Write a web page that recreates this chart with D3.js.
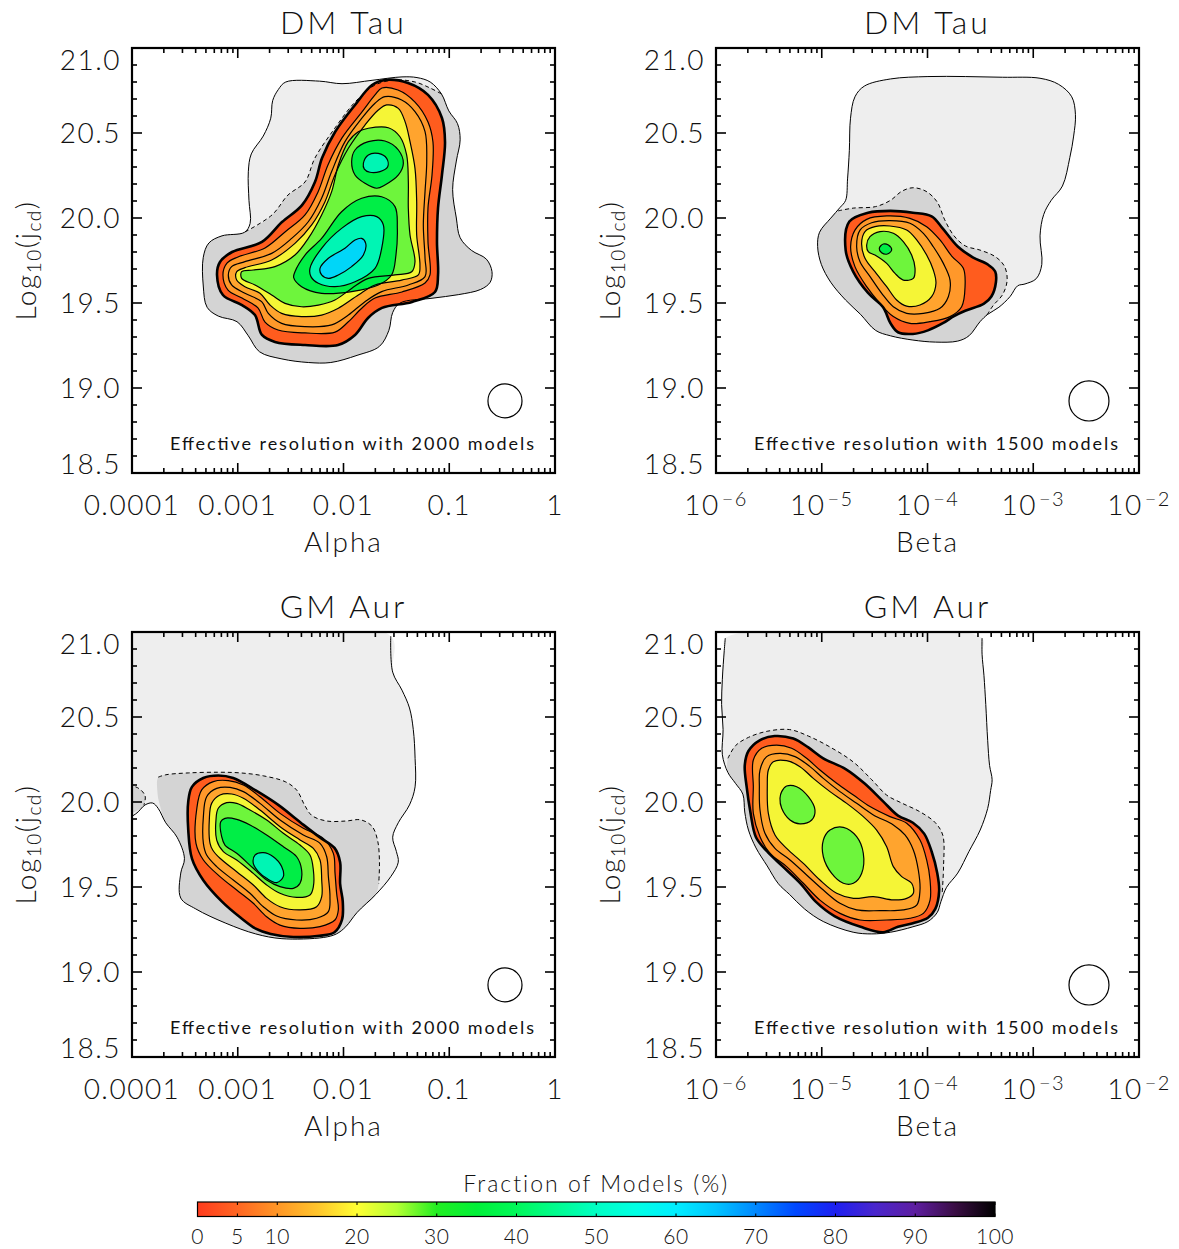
<!DOCTYPE html>
<html lang="en">
<head>
<meta charset="UTF-8">
<title>Fraction of Models</title>
<script src="https://cdn.jsdelivr.net/npm/d3@7"></script>
<style>
  body { margin: 0; background: #fff; }
  text { font-family: "Lato", "DejaVu Sans", sans-serif; font-weight: 300; fill: #111; }
  text.note { font-weight: 400; }
</style>
</head>
<body>
<script>
// axis ticks
const yTicks = [18.5, 19.0, 19.5, 20.0, 20.5, 21.0];
const alphaTicks = [1e-4, 1e-3, 1e-2, 1e-1, 1];
const alphaLabels = ['0.0001', '0.001', '0.01', '0.1', '1'];
const betaTicks = [1e-6, 1e-5, 1e-4, 1e-3, 1e-2];
const betaExps = ['\u22126', '\u22125', '\u22124', '\u22123', '\u22122'];

// colour bar
const cbarTicks = [0, 5, 10, 20, 30, 40, 50, 60, 70, 80, 90, 100];
const cbarStops = [0, 5, 10, 15, 20, 25, 30, 35, 40, 50, 55, 60, 65, 70, 75, 80, 85, 90, 95, 100];
const cbarColors = ['#ff3c1e', '#ff6622', '#ff9626', '#ffc42c', '#ffff33', '#b4ff33', '#22ee22', '#00f038', '#00f85a',
  '#00ffc4', '#00ffe4', '#00eeff', '#00c4ff', '#0088ff', '#0048ff', '#1e20f0', '#4a26cc', '#5e1ea0', '#3a0e44', '#000000'];

// contour fill per level: outer grey, dashed grey, then model fractions
const levelFill = ['#eeeeee', '#d4d4d4', '#ff5c1e', '#ff982a', '#ffa42e', '#f5f536', '#6ef53c', '#00ee46', '#00f5b4', '#00d6f8'];

// contours: lev = level, pts = [log10(x), log10(jcd)], open = number of points stroked (rest unstroked)
const dmTauAlpha = [
  {lev: 0, pts: [[-2.617,20.755],[-2.546,20.80],[-2.227,20.805],[-2.014,20.79],[-1.73,20.81],[-1.447,20.83],[-1.305,20.826],[-1.18,20.80],[-1.074,20.73],[-1.004,20.63],[-0.922,20.555],[-0.897,20.46],[-0.933,20.335],[-0.968,20.167],[-0.933,20.0],[-0.897,19.884],[-0.791,19.81],[-0.649,19.758],[-0.596,19.685],[-0.613,19.622],[-0.702,19.58],[-0.915,19.549],[-1.163,19.528],[-1.465,19.50],[-1.535,19.444],[-1.571,19.339],[-1.66,19.245],[-1.872,19.192],[-2.12,19.15],[-2.333,19.15],[-2.582,19.171],[-2.794,19.213],[-2.90,19.307],[-3.007,19.39],[-3.184,19.423],[-3.29,19.475],[-3.326,19.60],[-3.326,19.769],[-3.273,19.853],[-3.149,19.895],[-2.936,19.916],[-2.883,19.968],[-2.894,20.104],[-2.90,20.272],[-2.872,20.377],[-2.759,20.482],[-2.688,20.587],[-2.67,20.69]]},
  {lev: 1, open: 12, pts: [[-2.931,19.918],[-2.676,20.018],[-2.525,20.135],[-2.364,20.212],[-2.27,20.353],[-2.08,20.53],[-1.891,20.682],[-1.702,20.782],[-1.513,20.812],[-1.324,20.80],[-1.182,20.765],[-1.074,20.73],[-1.004,20.63],[-0.922,20.555],[-0.897,20.46],[-0.933,20.335],[-0.968,20.167],[-0.933,20.0],[-0.897,19.884],[-0.791,19.81],[-0.649,19.758],[-0.596,19.685],[-0.613,19.622],[-0.702,19.58],[-0.915,19.549],[-1.163,19.528],[-1.465,19.50],[-1.535,19.444],[-1.571,19.339],[-1.66,19.245],[-1.872,19.192],[-2.12,19.15],[-2.333,19.15],[-2.582,19.171],[-2.794,19.213],[-2.90,19.307],[-3.007,19.39],[-3.184,19.423],[-3.29,19.475],[-3.326,19.60],[-3.326,19.769],[-3.273,19.853],[-3.149,19.895]]},
  {lev: 2, pts: [[-1.608,20.812],[-1.39,20.794],[-1.201,20.724],[-1.069,20.588],[-1.04,20.447],[-1.069,20.253],[-1.106,20.059],[-1.116,19.859],[-1.106,19.665],[-1.135,19.565],[-1.352,19.506],[-1.636,19.471],[-1.768,19.412],[-1.891,19.312],[-2.052,19.253],[-2.364,19.253],[-2.648,19.271],[-2.771,19.312],[-2.837,19.429],[-2.96,19.488],[-3.14,19.547],[-3.196,19.665],[-3.168,19.741],[-3.054,19.80],[-2.771,19.859],[-2.582,19.976],[-2.392,20.076],[-2.27,20.212],[-2.203,20.353],[-2.08,20.506],[-1.891,20.665],[-1.73,20.782]]},
  {lev: 3, pts: [[-1.636,20.765],[-1.485,20.753],[-1.324,20.682],[-1.201,20.565],[-1.154,20.447],[-1.163,20.253],[-1.201,20.059],[-1.201,19.859],[-1.182,19.665],[-1.229,19.618],[-1.447,19.565],[-1.702,19.529],[-1.825,19.471],[-1.957,19.388],[-2.08,19.329],[-2.364,19.324],[-2.619,19.341],[-2.742,19.388],[-2.809,19.471],[-2.96,19.529],[-3.092,19.576],[-3.14,19.665],[-3.102,19.735],[-2.998,19.771],[-2.742,19.824],[-2.553,19.918],[-2.364,20.018],[-2.241,20.153],[-2.147,20.312],[-2.014,20.471],[-1.825,20.624],[-1.702,20.724]]},
  {lev: 4, pts: [[-1.608,20.714],[-1.45,20.694],[-1.324,20.626],[-1.229,20.508],[-1.213,20.332],[-1.229,20.155],[-1.245,19.959],[-1.229,19.763],[-1.229,19.655],[-1.387,19.606],[-1.639,19.567],[-1.797,19.508],[-1.954,19.429],[-2.112,19.371],[-2.364,19.361],[-2.585,19.38],[-2.711,19.439],[-2.774,19.508],[-2.932,19.557],[-3.058,19.606],[-3.089,19.665],[-3.058,19.714],[-2.932,19.743],[-2.679,19.792],[-2.49,19.88],[-2.333,19.978],[-2.207,20.116],[-2.112,20.273],[-1.986,20.449],[-1.828,20.586],[-1.702,20.675]]},
  {lev: 5, pts: [[-1.592,20.665],[-1.482,20.645],[-1.418,20.567],[-1.371,20.449],[-1.324,20.292],[-1.308,20.096],[-1.308,19.9],[-1.277,19.724],[-1.292,19.665],[-1.45,19.635],[-1.702,19.606],[-1.86,19.547],[-2.049,19.469],[-2.207,19.429],[-2.396,19.42],[-2.585,19.439],[-2.695,19.488],[-2.79,19.557],[-2.932,19.596],[-3.01,19.635],[-3.01,19.684],[-2.932,19.708],[-2.679,19.753],[-2.459,19.851],[-2.301,19.959],[-2.175,20.096],[-2.081,20.253],[-1.954,20.41],[-1.797,20.547],[-1.671,20.635]]},
  {lev: 6, pts: [[-1.765,20.528],[-1.576,20.531],[-1.466,20.478],[-1.403,20.371],[-1.387,20.214],[-1.387,20.057],[-1.371,19.9],[-1.324,19.743],[-1.355,19.684],[-1.513,19.665],[-1.765,19.645],[-1.923,19.586],[-2.081,19.518],[-2.238,19.488],[-2.396,19.478],[-2.553,19.498],[-2.679,19.547],[-2.837,19.606],[-2.963,19.645],[-2.963,19.684],[-2.853,19.694],[-2.648,19.714],[-2.459,19.782],[-2.333,19.88],[-2.207,20.018],[-2.112,20.155],[-2.049,20.312],[-1.954,20.449],[-1.86,20.508]]},
  {lev: 7, pts: [[-1.923,20.331],[-1.891,20.40],[-1.765,20.449],[-1.608,20.453],[-1.481,20.40],[-1.434,20.322],[-1.481,20.253],[-1.608,20.194],[-1.686,20.175],[-1.797,20.204],[-1.891,20.253]]},
  {lev: 7, pts: [[-2.459,19.684],[-2.364,19.782],[-2.207,19.88],[-2.018,20.037],[-1.828,20.116],[-1.639,20.125],[-1.513,20.067],[-1.491,19.939],[-1.504,19.782],[-1.545,19.665],[-1.671,19.606],[-1.923,19.567],[-2.207,19.557],[-2.396,19.596],[-2.471,19.649]]},
  {lev: 8, pts: [[-1.812,20.322],[-1.765,20.371],[-1.671,20.38],[-1.592,20.351],[-1.582,20.302],[-1.655,20.273],[-1.75,20.269],[-1.803,20.288]]},
  {lev: 8, pts: [[-2.317,19.704],[-2.207,19.822],[-2.018,19.939],[-1.828,20.008],[-1.686,20.008],[-1.623,19.959],[-1.639,19.822],[-1.702,19.704],[-1.891,19.625],[-2.081,19.596],[-2.238,19.616],[-2.308,19.655]]},
  {lev: 9, pts: [[-2.222,19.704],[-2.143,19.763],[-1.986,19.822],[-1.891,19.871],[-1.828,19.88],[-1.79,19.851],[-1.812,19.782],[-1.923,19.714],[-2.049,19.665],[-2.143,19.645],[-2.207,19.665]]}
];

const dmTauBeta = [
  {lev: 0, pts: [[-4.728,20.587],[-4.686,20.713],[-4.597,20.776],[-4.35,20.818],[-3.996,20.832],[-3.643,20.832],[-3.29,20.828],[-2.936,20.822],[-2.76,20.786],[-2.636,20.713],[-2.601,20.608],[-2.618,20.482],[-2.654,20.356],[-2.724,20.188],[-2.83,20.104],[-2.901,20.021],[-2.936,19.895],[-2.919,19.727],[-2.972,19.643],[-3.078,19.612],[-3.148,19.601],[-3.219,19.538],[-3.325,19.475],[-3.431,19.433],[-3.502,19.391],[-3.608,19.307],[-3.714,19.276],[-3.926,19.27],[-4.138,19.282],[-4.35,19.307],[-4.491,19.339],[-4.633,19.433],[-4.774,19.517],[-4.915,19.622],[-5.004,19.727],[-5.039,19.832],[-5.021,19.916],[-4.915,19.999],[-4.827,20.062],[-4.774,20.104],[-4.756,20.23],[-4.739,20.398]]},
  {lev: 1, open: 18, pts: [[-4.845,20.042],[-4.703,20.058],[-4.491,20.067],[-4.35,20.104],[-4.244,20.157],[-4.138,20.178],[-4.014,20.157],[-3.908,20.094],[-3.837,19.989],[-3.749,19.895],[-3.643,19.836],[-3.502,19.811],[-3.36,19.773],[-3.272,19.716],[-3.247,19.633],[-3.29,19.549],[-3.378,19.486],[-3.438,19.429],[-3.502,19.391],[-3.608,19.307],[-3.714,19.276],[-3.926,19.27],[-4.138,19.282],[-4.35,19.307],[-4.491,19.339],[-4.633,19.433],[-4.774,19.517],[-4.915,19.622],[-5.004,19.727],[-5.039,19.832],[-5.021,19.916],[-4.915,19.999]]},
  {lev: 2, pts: [[-4.774,19.811],[-4.739,19.979],[-4.562,20.031],[-4.35,20.042],[-4.138,20.031],[-3.961,20.01],[-3.855,19.937],[-3.714,19.832],[-3.572,19.769],[-3.431,19.727],[-3.36,19.685],[-3.353,19.622],[-3.396,19.538],[-3.466,19.496],[-3.643,19.454],[-3.749,19.423],[-3.855,19.381],[-3.996,19.339],[-4.138,19.318],[-4.279,19.328],[-4.35,19.381],[-4.42,19.475],[-4.562,19.559],[-4.703,19.685]]},
  {lev: 3, pts: [[-4.727,19.831],[-4.686,19.929],[-4.575,19.992],[-4.386,20.012],[-4.166,19.998],[-4.008,19.949],[-3.882,19.871],[-3.771,19.776],[-3.661,19.704],[-3.645,19.596],[-3.677,19.478],[-3.787,19.42],[-3.977,19.39],[-4.166,19.38],[-4.323,19.42],[-4.45,19.498],[-4.575,19.596],[-4.686,19.714]]},
  {lev: 4, pts: [[-4.67,19.831],[-4.638,19.929],[-4.528,19.972],[-4.355,19.984],[-4.166,19.969],[-4.039,19.91],[-3.945,19.831],[-3.85,19.733],[-3.787,19.635],[-3.803,19.537],[-3.882,19.469],[-4.039,19.439],[-4.197,19.439],[-4.323,19.478],[-4.433,19.557],[-4.543,19.655],[-4.638,19.743]]},
  {lev: 5, pts: [[-4.623,19.851],[-4.591,19.92],[-4.497,19.949],[-4.355,19.953],[-4.197,19.929],[-4.102,19.871],[-4.008,19.782],[-3.945,19.694],[-3.92,19.616],[-3.961,19.537],[-4.071,19.488],[-4.197,19.482],[-4.292,19.518],[-4.386,19.596],[-4.497,19.684],[-4.591,19.763]]},
  {lev: 6, pts: [[-4.575,19.841],[-4.544,19.89],[-4.449,19.92],[-4.323,19.91],[-4.229,19.861],[-4.15,19.782],[-4.118,19.704],[-4.134,19.645],[-4.229,19.635],[-4.307,19.674],[-4.386,19.733],[-4.497,19.782],[-4.56,19.802]]},
  {lev: 7, pts: [[-4.456,19.822],[-4.418,19.847],[-4.37,19.841],[-4.339,19.812],[-4.38,19.788],[-4.434,19.796]]}
];

const gmAurAlpha = [
  {lev: 0, open: 33, pts: [[-1.553,20.975],[-1.535,20.764],[-1.447,20.658],[-1.376,20.553],[-1.34,20.426],[-1.323,20.257],[-1.323,20.089],[-1.376,19.983],[-1.482,19.878],[-1.535,19.793],[-1.5,19.709],[-1.482,19.646],[-1.553,19.561],[-1.695,19.456],[-1.872,19.35],[-1.979,19.266],[-2.067,19.224],[-2.191,19.203],[-2.582,19.196],[-2.83,19.224],[-3.113,19.287],[-3.397,19.371],[-3.539,19.435],[-3.539,19.582],[-3.504,19.667],[-3.574,19.793],[-3.681,19.878],[-3.752,19.962],[-3.805,19.994],[-3.876,19.983],[-3.965,19.93],[-4.1,19.9],[-4.1,20.975]]},
  {lev: 1, open: 4, pts: [[-4.1,20.1],[-3.95,20.085],[-3.876,20.036],[-3.887,19.983],[-3.947,19.951],[-4.1,19.92]]},
  {lev: 1, open: 17, pts: [[-3.752,20.146],[-3.681,20.16],[-3.468,20.171],[-3.184,20.175],[-2.972,20.171],[-2.759,20.154],[-2.546,20.118],[-2.44,20.068],[-2.369,19.983],[-2.298,19.92],[-2.156,19.888],[-1.979,19.888],[-1.837,19.895],[-1.73,19.857],[-1.677,19.772],[-1.66,19.646],[-1.667,19.519],[-1.695,19.456],[-1.872,19.35],[-1.979,19.266],[-2.067,19.224],[-2.191,19.203],[-2.582,19.196],[-2.83,19.224],[-3.113,19.287],[-3.397,19.371],[-3.539,19.435],[-3.539,19.582],[-3.504,19.667],[-3.574,19.793],[-3.681,19.878],[-3.74,19.99],[-3.759,20.055]]},
  {lev: 2, pts: [[-3.468,19.835],[-3.468,20.004],[-3.433,20.089],[-3.326,20.141],[-3.184,20.156],[-3.043,20.141],[-2.83,20.068],[-2.617,19.983],[-2.404,19.878],[-2.227,19.793],[-2.085,19.73],[-2.032,19.646],[-2.032,19.519],[-2.007,19.414],[-2.014,19.308],[-2.085,19.234],[-2.227,19.213],[-2.475,19.206],[-2.688,19.224],[-2.83,19.255],[-2.972,19.319],[-3.149,19.414],[-3.326,19.54],[-3.433,19.667]]},
  {lev: 3, pts: [[-3.395,19.757],[-3.389,19.953],[-3.341,20.071],[-3.231,20.12],[-3.089,20.126],[-2.947,20.1],[-2.79,20.031],[-2.6,19.933],[-2.38,19.845],[-2.191,19.786],[-2.096,19.698],[-2.08,19.58],[-2.065,19.463],[-2.049,19.365],[-2.081,19.306],[-2.222,19.267],[-2.411,19.257],[-2.601,19.276],[-2.727,19.325],[-2.853,19.404],[-3.01,19.482],[-3.168,19.561],[-3.325,19.659]]},
  {lev: 4, pts: [[-3.325,19.757],[-3.325,19.914],[-3.294,20.031],[-3.199,20.08],[-3.073,20.086],[-2.947,20.061],[-2.79,19.992],[-2.6,19.894],[-2.38,19.806],[-2.222,19.757],[-2.159,19.678],[-2.143,19.561],[-2.128,19.443],[-2.143,19.355],[-2.254,19.316],[-2.443,19.306],[-2.632,19.329],[-2.758,19.384],[-2.884,19.463],[-3.042,19.541],[-3.199,19.62],[-3.294,19.688]]},
  {lev: 5, pts: [[-3.262,19.757],[-3.269,19.894],[-3.247,19.992],[-3.168,20.041],[-3.057,20.047],[-2.947,20.022],[-2.79,19.953],[-2.6,19.855],[-2.411,19.777],[-2.285,19.727],[-2.222,19.659],[-2.206,19.541],[-2.206,19.443],[-2.254,19.384],[-2.411,19.365],[-2.601,19.384],[-2.727,19.433],[-2.853,19.512],[-3.01,19.59],[-3.168,19.669],[-3.237,19.718]]},
  {lev: 6, pts: [[-3.199,19.776],[-3.206,19.894],[-3.184,19.963],[-3.105,19.996],[-3.01,19.992],[-2.884,19.953],[-2.726,19.894],[-2.569,19.816],[-2.411,19.747],[-2.317,19.688],[-2.285,19.6],[-2.285,19.502],[-2.317,19.453],[-2.443,19.439],[-2.601,19.463],[-2.727,19.512],[-2.853,19.58],[-3.01,19.659],[-3.136,19.708]]},
  {lev: 7, pts: [[-3.152,19.796],[-3.161,19.884],[-3.121,19.904],[-3.01,19.898],[-2.884,19.865],[-2.727,19.806],[-2.569,19.737],[-2.443,19.678],[-2.396,19.6],[-2.411,19.522],[-2.474,19.492],[-2.601,19.502],[-2.727,19.541],[-2.853,19.61],[-3.01,19.698],[-3.121,19.747]]},
  {lev: 8, pts: [[-2.853,19.639],[-2.837,19.688],[-2.758,19.702],[-2.664,19.678],[-2.585,19.62],[-2.569,19.561],[-2.632,19.526],[-2.727,19.551],[-2.805,19.59]]}
];

const gmAurBeta = [
  {lev: 0, open: 37, pts: [[-5.912,20.964],[-5.922,20.89],[-5.94,20.722],[-5.947,20.574],[-5.933,20.426],[-5.94,20.278],[-5.887,20.173],[-5.816,20.11],[-5.746,20.046],[-5.728,19.941],[-5.693,19.835],[-5.622,19.73],[-5.516,19.624],[-5.41,19.519],[-5.304,19.456],[-5.163,19.371],[-4.986,19.297],[-4.703,19.234],[-4.527,19.224],[-4.35,19.234],[-4.138,19.266],[-3.996,19.297],[-3.908,19.35],[-3.873,19.414],[-3.82,19.498],[-3.714,19.582],[-3.608,19.709],[-3.502,19.835],[-3.431,19.962],[-3.403,20.068],[-3.389,20.131],[-3.413,20.215],[-3.431,20.363],[-3.449,20.574],[-3.466,20.743],[-3.484,20.869],[-3.484,20.964]]},
  {lev: 1, open: 16, pts: [[-5.887,20.257],[-5.816,20.331],[-5.693,20.38],[-5.516,20.416],[-5.304,20.426],[-5.127,20.388],[-4.915,20.321],[-4.703,20.236],[-4.527,20.131],[-4.385,20.04],[-4.244,19.994],[-4.067,19.941],[-3.926,19.878],[-3.855,19.804],[-3.848,19.624],[-3.862,19.456],[-3.873,19.414],[-3.908,19.35],[-3.996,19.297],[-4.138,19.266],[-4.35,19.234],[-4.527,19.224],[-4.703,19.234],[-4.986,19.297],[-5.163,19.371],[-5.304,19.456],[-5.41,19.519],[-5.516,19.624],[-5.622,19.73],[-5.693,19.835],[-5.728,19.941],[-5.746,20.046],[-5.816,20.11],[-5.887,20.173]]},
  {lev: 2, pts: [[-5.728,20.215],[-5.693,20.3],[-5.587,20.363],[-5.445,20.388],[-5.269,20.373],[-5.127,20.321],[-4.986,20.257],[-4.774,20.194],[-4.597,20.11],[-4.42,20.004],[-4.279,19.92],[-4.138,19.878],[-4.032,19.814],[-3.961,19.709],[-3.908,19.582],[-3.89,19.477],[-3.926,19.371],[-3.996,19.319],[-4.138,19.287],[-4.279,19.266],[-4.42,19.234],[-4.633,19.266],[-4.88,19.329],[-5.057,19.414],[-5.198,19.519],[-5.375,19.624],[-5.516,19.709],[-5.622,19.793],[-5.675,19.941],[-5.71,20.089]]},
  {lev: 3, pts: [[-5.647,20.247],[-5.568,20.316],[-5.426,20.335],[-5.285,20.316],[-5.143,20.257],[-5.017,20.188],[-4.859,20.11],[-4.701,20.041],[-4.544,19.973],[-4.355,19.914],[-4.197,19.875],[-4.071,19.776],[-4.008,19.659],[-3.976,19.541],[-3.976,19.423],[-4.039,19.345],[-4.166,19.316],[-4.386,19.306],[-4.638,19.306],[-4.827,19.345],[-5.017,19.423],[-5.174,19.522],[-5.332,19.62],[-5.49,19.698],[-5.584,19.796],[-5.647,19.933],[-5.647,20.09]]},
  {lev: 4, pts: [[-5.584,20.188],[-5.521,20.267],[-5.395,20.286],[-5.253,20.267],[-5.111,20.208],[-4.985,20.139],[-4.828,20.061],[-4.67,19.992],[-4.512,19.924],[-4.323,19.865],[-4.213,19.806],[-4.134,19.718],[-4.087,19.6],[-4.071,19.482],[-4.102,19.394],[-4.229,19.365],[-4.45,19.361],[-4.67,19.365],[-4.828,19.404],[-4.985,19.482],[-5.143,19.571],[-5.3,19.659],[-5.442,19.727],[-5.537,19.816],[-5.584,19.953],[-5.59,20.09]]},
  {lev: 5, pts: [[-5.505,20.188],[-5.458,20.237],[-5.332,20.243],[-5.206,20.208],[-5.08,20.139],[-4.922,20.061],[-4.764,19.992],[-4.607,19.914],[-4.481,19.835],[-4.386,19.737],[-4.323,19.62],[-4.244,19.561],[-4.15,19.522],[-4.134,19.463],[-4.197,19.433],[-4.323,19.424],[-4.512,19.443],[-4.701,19.433],[-4.859,19.463],[-5.017,19.541],[-5.174,19.639],[-5.332,19.727],[-5.442,19.806],[-5.505,19.933],[-5.515,20.09]]},
  {lev: 6, pts: [[-5.379,20.061],[-5.332,20.094],[-5.237,20.09],[-5.127,20.031],[-5.064,19.953],[-5.095,19.894],[-5.206,19.871],[-5.3,19.894],[-5.379,19.963],[-5.395,20.022]]},
  {lev: 6, pts: [[-4.985,19.776],[-4.922,19.835],[-4.796,19.851],[-4.67,19.796],[-4.607,19.698],[-4.623,19.58],[-4.701,19.522],[-4.796,19.522],[-4.906,19.58],[-4.985,19.678]]}
];

// effective resolution marker: centre [log10 x, y], half width (dex), half height
const resAlpha = [-0.473, 18.924, 0.161, 0.100];
const resBeta = [-2.473, 18.924, 0.189, 0.118];

const panels = [
  {title: 'DM Tau', axis: 'Alpha', domain: [1e-4, 1], contours: dmTauAlpha, res: resAlpha, models: 2000},
  {title: 'DM Tau', axis: 'Beta', domain: [1e-6, 1e-2], contours: dmTauBeta, res: resBeta, models: 1500},
  {title: 'GM Aur', axis: 'Alpha', domain: [1e-4, 1], contours: gmAurAlpha, res: resAlpha, models: 2000},
  {title: 'GM Aur', axis: 'Beta', domain: [1e-6, 1e-2], contours: gmAurBeta, res: resBeta, models: 1500}
];

const W = 423, H = 425;
const origins = [[132, 48], [716, 48], [132, 632], [716, 632]];

const svg = d3.select('body').append('svg').attr('width', 1179).attr('height', 1249);
const defs = svg.append('defs');

const lineClosed = d3.line().curve(d3.curveCatmullRomClosed.alpha(0.5));
const lineOpen = d3.line().curve(d3.curveCatmullRom.alpha(0.5));

function strokeWidth(lev) {
  if (lev === 2) return 2.6;
  if (lev <= 1) return 1;
  return 1.2;
}

panels.forEach((p, i) => {
  const [x0, y0] = origins[i];
  const x = d3.scaleLog().domain(p.domain).range([x0, x0 + W]);
  const y = d3.scaleLinear().domain([18.5, 21]).range([y0 + H, y0]);
  const toPx = d => [x(Math.pow(10, d[0])), y(d[1])];
  const g = svg.append('g');

  defs.append('clipPath').attr('id', 'clip' + i)
    .append('rect').attr('x', x0).attr('y', y0).attr('width', W).attr('height', H);
  const cg = g.append('g').attr('clip-path', `url(#clip${i})`);

  // fills, outer to inner
  p.contours.forEach(c => {
    cg.append('path').attr('d', lineClosed(c.pts.map(toPx)))
      .attr('fill', levelFill[c.lev]).attr('stroke', 'none');
  });
  // contour lines: dashed grey first, then outer, then the rest
  const order = p.contours.filter(c => c.lev === 1)
    .concat(p.contours.filter(c => c.lev === 0))
    .concat(p.contours.filter(c => c.lev > 1));
  order.forEach(c => {
    const pts = c.pts.map(toPx);
    const d = c.open ? lineOpen(pts.slice(0, c.open)) : lineClosed(pts);
    cg.append('path').attr('d', d).attr('fill', 'none')
      .attr('stroke', '#000').attr('stroke-width', strokeWidth(c.lev))
      .attr('stroke-dasharray', c.lev === 1 ? '4,3' : null);
  });

  // resolution marker
  const [rc, ry0, rdx, rdy] = p.res;
  const cx = x(Math.pow(10, rc)), cy = y(ry0);
  g.append('ellipse').attr('cx', cx).attr('cy', cy)
    .attr('rx', x(Math.pow(10, rc + rdx)) - cx).attr('ry', cy - y(ry0 + rdy))
    .attr('fill', 'none').attr('stroke', '#000').attr('stroke-width', 1.2);
  g.append('text').attr('class', 'note').attr('x', x0 + W - 21).attr('y', y0 + 402)
    .attr('text-anchor', 'end').attr('font-size', 18)
    .attr('textLength', 364).attr('lengthAdjust', 'spacing')
    .text(`Effective resolution with ${p.models} models`);

  // frame and ticks
  g.append('rect').attr('x', x0).attr('y', y0).attr('width', W).attr('height', H)
    .attr('fill', 'none').attr('stroke', '#000').attr('stroke-width', 2.2);
  x.ticks().forEach(t => {
    const lg = Math.log10(t);
    const len = Math.abs(lg - Math.round(lg)) < 1e-6 ? 10 : 5;
    const xx = x(t);
    g.append('line').attr('x1', xx).attr('x2', xx).attr('y1', y0 + H).attr('y2', y0 + H - len)
      .attr('stroke', '#000').attr('stroke-width', 1.6);
    g.append('line').attr('x1', xx).attr('x2', xx).attr('y1', y0).attr('y2', y0 + len)
      .attr('stroke', '#000').attr('stroke-width', 1.6);
  });
  y.ticks(25).forEach(t => {
    const len = Math.abs(t * 2 - Math.round(t * 2)) < 1e-6 ? 10 : 5;
    const yy = y(t);
    g.append('line').attr('x1', x0).attr('x2', x0 + len).attr('y1', yy).attr('y2', yy)
      .attr('stroke', '#000').attr('stroke-width', 1.6);
    g.append('line').attr('x1', x0 + W).attr('x2', x0 + W - len).attr('y1', yy).attr('y2', yy)
      .attr('stroke', '#000').attr('stroke-width', 1.6);
  });

  // y tick labels
  yTicks.forEach(t => {
    let shift = 10;
    if (t === 21.0) shift += 12;
    if (t === 18.5) shift -= 9;
    g.append('text').attr('x', x0 - 11).attr('y', y(t) + shift)
      .attr('text-anchor', 'end').attr('font-size', 28).attr('letter-spacing', 1.5)
      .text(d3.format('.1f')(t));
  });

  // x tick labels
  if (p.axis === 'Alpha') {
    alphaTicks.forEach((t, k) => {
      g.append('text').attr('x', x(t)).attr('y', y0 + H + 42)
        .attr('text-anchor', 'middle').attr('font-size', 28).attr('letter-spacing', 1.5)
        .text(alphaLabels[k]);
    });
  } else {
    betaTicks.forEach((t, k) => {
      const tx = g.append('text').attr('x', x(t)).attr('y', y0 + H + 42)
        .attr('text-anchor', 'middle').attr('font-size', 28).attr('letter-spacing', 1.5);
      tx.append('tspan').text('10');
      tx.append('tspan').attr('dy', -9).attr('dx', 2).attr('font-size', 20).text(betaExps[k]);
    });
  }

  // axis titles
  g.append('text').attr('x', x0 + W / 2).attr('y', y0 + H + 79)
    .attr('text-anchor', 'middle').attr('font-size', 28).attr('letter-spacing', 2).text(p.axis);
  g.append('text').attr('x', x0 + W / 2).attr('y', y0 - 14)
    .attr('text-anchor', 'middle').attr('font-size', 32).attr('letter-spacing', 3).text(p.title);

  const yl = g.append('text').attr('transform', `translate(${x0 - 96},${y0 + H / 2}) rotate(-90)`)
    .attr('text-anchor', 'middle').attr('font-size', 28).attr('letter-spacing', 1.5);
  yl.append('tspan').text('Log');
  yl.append('tspan').attr('font-size', 19).attr('dy', 5).text('10');
  yl.append('tspan').attr('dy', -5).text('(j');
  yl.append('tspan').attr('font-size', 19).attr('dy', 5).text('cd');
  yl.append('tspan').attr('dy', -5).text(')');
});

// colour bar
const cb = d3.scaleLinear().domain([0, 100]).range([197.5, 995]);
const grad = defs.append('linearGradient').attr('id', 'cbar').attr('x1', 0).attr('x2', 1).attr('y1', 0).attr('y2', 0);
cbarStops.forEach((v, k) => grad.append('stop').attr('offset', v / 100).attr('stop-color', cbarColors[k]));
svg.append('rect').attr('x', cb(0)).attr('y', 1202).attr('width', cb(100) - cb(0)).attr('height', 14.5)
  .attr('fill', 'url(#cbar)').attr('stroke', '#000').attr('stroke-width', 1.2);
cbarTicks.forEach(t => {
  svg.append('line').attr('x1', cb(t)).attr('x2', cb(t)).attr('y1', 1202).attr('y2', 1205)
    .attr('stroke', '#000').attr('stroke-width', 1);
  svg.append('line').attr('x1', cb(t)).attr('x2', cb(t)).attr('y1', 1216.5).attr('y2', 1213.5)
    .attr('stroke', '#000').attr('stroke-width', 1);
  svg.append('text').attr('x', cb(t)).attr('y', 1244).attr('text-anchor', 'middle')
    .attr('font-size', 21).attr('letter-spacing', 0.5).text(t);
});
svg.append('text').attr('x', cb(50)).attr('y', 1192).attr('text-anchor', 'middle')
  .attr('font-size', 23).attr('letter-spacing', 2).text('Fraction of Models (%)');
</script>
</body>
</html>
